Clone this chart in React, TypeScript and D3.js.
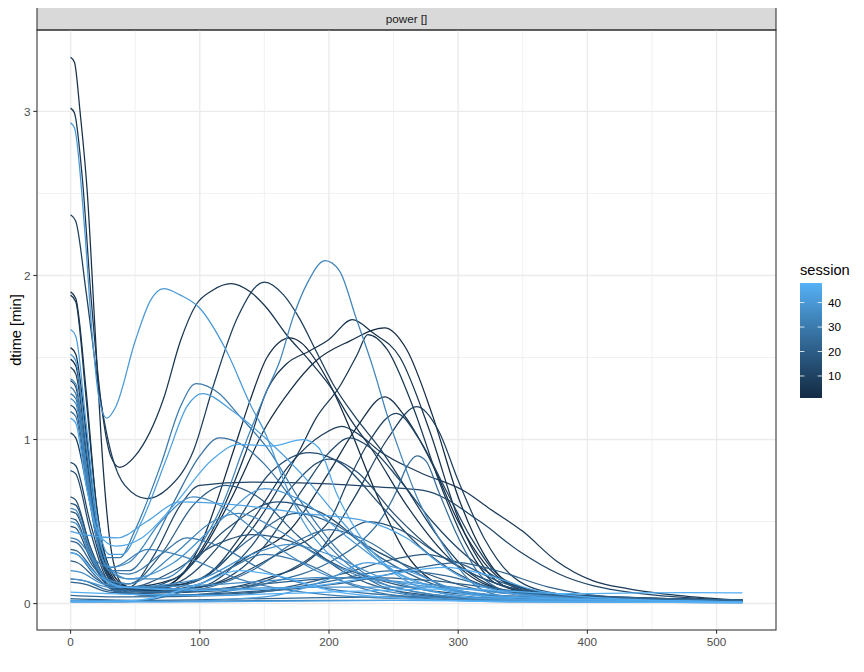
import React from "react";
import * as d3 from "d3";

// ---- data ----
const sessions: number[] = Array.from({ length: 48 }, (_, i) => i + 1);

// knots [power, dtime] for each session, in session order
const sessionKnots: [number, number][][] = [
  // s1
  [[0,1.56],[4,1.52],[12,1.05],[20,0.5],[30,0.2],[42,0.1],[70,0.1],[100,0.35],[126,0.93],[139,1.24],[152,1.5],[170,1.62],[180,1.58],[190,1.48],[203,1.3],[216,1.07],[235,0.7],[260,0.3],[290,0.1],[330,0.04],[420,0.02],[520,0.01]],
  // s2
  [[0,1.49],[4,1.45],[12,1.0],[20,0.48],[30,0.18],[42,0.09],[70,0.1],[100,0.3],[125,0.65],[152,1.09],[170,1.3],[190,1.48],[216,1.6],[243,1.68],[260,1.55],[280,1.15],[300,0.65],[320,0.3],[340,0.12],[380,0.05],[450,0.03],[520,0.02]],
  // s3
  [[0,3.33],[3,3.3],[7.3,3.0],[12.8,2.52],[19,1.66],[25,0.85],[32,0.3],[40,0.12],[60,0.07],[100,0.12],[140,0.3],[170,0.45],[200,0.8],[222,1.08],[243,1.26],[258,1.15],[280,0.85],[300,0.5],[320,0.25],[350,0.08],[400,0.03],[520,0.02]],
  // s4
  [[0,1.9],[4,1.86],[12,1.3],[20,0.6],[30,0.22],[45,0.1],[80,0.15],[110,0.45],[136,0.93],[152,1.3],[167,1.46],[185,1.54],[200,1.61],[218,1.73],[234,1.65],[255,1.5],[278,1.05],[301,0.5],[320,0.22],[345,0.08],[400,0.04],[520,0.02]],
  // s5
  [[0,3.02],[3,2.99],[9,2.6],[16,1.85],[24,1.2],[31,0.9],[38,0.83],[50,0.9],[72,1.25],[85,1.6],[97,1.82],[110,1.91],[124,1.95],[139,1.9],[152,1.8],[167,1.64],[185,1.48],[203,1.3],[216,1.13],[234,0.93],[260,0.6],[290,0.3],[320,0.12],[360,0.05],[440,0.03],[520,0.02]],
  // s6
  [[0,1.88],[4,1.84],[12,1.25],[20,0.6],[30,0.22],[45,0.1],[90,0.12],[140,0.45],[177,0.93],[190,1.13],[208,1.32],[222,1.52],[230,1.64],[245,1.55],[265,1.2],[285,0.75],[305,0.38],[330,0.12],[380,0.04],[520,0.02]],
  // s7
  [[0,1.04],[4,1.01],[14,0.65],[24,0.3],[35,0.12],[50,0.08],[100,0.15],[140,0.5],[170,0.85],[195,1.03],[210,1.08],[225,1.02],[239,0.93],[270,0.8],[306,0.68],[324,0.58],[350,0.44],[376,0.26],[404,0.14],[432,0.09],[470,0.05],[520,0.02]],
  // s8
  [[0,2.37],[4,2.33],[12,1.9],[22,1.3],[32,0.9],[42,0.72],[59,0.64],[75,0.7],[95,0.93],[111,1.34],[129,1.74],[150,1.96],[165,1.88],[177,1.74],[190,1.54],[203,1.34],[221,1.13],[239,0.95],[260,0.7],[285,0.4],[310,0.18],[350,0.06],[420,0.03],[520,0.02]],
  // s9
  [[0,1.44],[4,1.4],[12,0.95],[20,0.45],[30,0.17],[45,0.08],[100,0.08],[150,0.15],[190,0.3],[220,0.65],[245,1.0],[268,1.2],[285,1.05],[300,0.75],[320,0.4],[340,0.18],[370,0.07],[420,0.03],[520,0.02]],
  // s10
  [[0,1.36],[4,1.32],[12,0.9],[20,0.42],[30,0.16],[45,0.08],[100,0.1],[160,0.3],[200,0.5],[215,0.75],[232,1.0],[252,1.16],[270,1.0],[290,0.7],[310,0.4],[335,0.15],[380,0.05],[520,0.02]],
  // s11
  [[0,0.86],[4,0.84],[15,0.5],[30,0.15],[45,0.1],[65,0.3],[85,0.6],[100,0.72],[140,0.74],[200,0.73],[240,0.71],[273,0.69],[317,0.5],[347,0.32],[378,0.18],[432,0.07],[520,0.02]],
  // s12
  [[0,1.21],[4,1.18],[12,0.8],[20,0.4],[30,0.15],[45,0.07],[100,0.1],[150,0.35],[180,0.7],[200,0.92],[216,1.01],[232,0.95],[255,0.75],[280,0.5],[305,0.3],[340,0.12],[400,0.04],[520,0.02]],
  // s13
  [[0,0.81],[4,0.79],[15,0.45],[28,0.15],[40,0.08],[80,0.12],[120,0.4],[155,0.8],[185,0.92],[210,0.85],[240,0.6],[270,0.35],[300,0.18],[340,0.07],[420,0.03],[520,0.02]],
  // s14
  [[0,0.65],[4,0.63],[15,0.35],[28,0.12],[40,0.06],[100,0.1],[140,0.35],[170,0.7],[200,0.88],[222,0.8],[250,0.55],[285,0.3],[320,0.15],[370,0.06],[520,0.02]],
  // s15
  [[0,0.47],[4,0.46],[15,0.28],[28,0.12],[45,0.08],[80,0.15],[120,0.45],[160,0.62],[195,0.55],[230,0.35],[270,0.2],[320,0.08],[400,0.03],[520,0.01]],
  // s16
  [[0,0.56],[4,0.55],[15,0.32],[28,0.12],[45,0.06],[120,0.08],[180,0.25],[210,0.42],[230,0.5],[255,0.45],[285,0.3],[320,0.15],[370,0.06],[520,0.02]],
  // s17
  [[0,0.61],[4,0.6],[15,0.35],[28,0.15],[45,0.1],[80,0.2],[110,0.35],[140,0.42],[170,0.38],[210,0.22],[250,0.12],[320,0.05],[520,0.01]],
  // s18
  [[0,0.33],[5,0.32],[18,0.2],[35,0.08],[60,0.05],[150,0.08],[210,0.18],[250,0.27],[275,0.3],[300,0.25],[330,0.14],[380,0.05],[520,0.02]],
  // s19
  [[0,0.52],[4,0.51],[15,0.3],[28,0.14],[45,0.12],[70,0.3],[95,0.6],[120,0.72],[145,0.65],[175,0.42],[210,0.2],[250,0.08],[320,0.03],[520,0.01]],
  // s20
  [[0,0.26],[5,0.25],[20,0.15],[40,0.08],[80,0.07],[150,0.12],[220,0.16],[280,0.14],[340,0.08],[400,0.04],[520,0.02]],
  // s21
  [[0,0.13],[10,0.12],[30,0.07],[80,0.05],[160,0.08],[230,0.15],[270,0.22],[300,0.25],[330,0.2],[370,0.1],[420,0.04],[520,0.02]],
  // s22
  [[0,0.38],[5,0.37],[18,0.22],[35,0.1],[60,0.07],[100,0.15],[140,0.4],[175,0.55],[205,0.48],[240,0.28],[280,0.12],[330,0.05],[520,0.02]],
  // s23
  [[0,0.03],[50,0.02],[150,0.03],[250,0.04],[350,0.03],[450,0.02],[520,0.01]],
  // s24
  [[0,0.05],[40,0.04],[120,0.05],[190,0.12],[250,0.2],[290,0.17],[330,0.09],[390,0.04],[520,0.02]],
  // s25
  [[0,0.15],[10,0.14],[30,0.08],[80,0.05],[150,0.12],[200,0.25],[225,0.38],[239,0.5],[252,0.68],[260,0.83],[268,0.9],[275,0.87],[285,0.68],[299,0.42],[320,0.15],[350,0.05],[420,0.02],[520,0.01]],
  // s26
  [[0,0.31],[5,0.3],[18,0.18],[35,0.08],[80,0.07],[140,0.2],[175,0.38],[200,0.45],[230,0.38],[265,0.2],[300,0.08],[360,0.03],[520,0.01]],
  // s27
  [[0,1.17],[4,1.14],[12,0.75],[20,0.4],[30,0.2],[45,0.2],[60,0.32],[80,0.62],[100,0.9],[115,1.01],[130,0.98],[150,0.85],[175,0.6],[200,0.35],[230,0.15],[270,0.05],[350,0.02],[520,0.01]],
  // s28
  [[0,1.32],[4,1.28],[12,0.85],[20,0.42],[30,0.2],[45,0.18],[70,0.3],[90,0.4],[115,0.35],[150,0.2],[200,0.09],[280,0.04],[520,0.01]],
  // s29
  [[0,0.01],[40,0.01],[90,0.08],[120,0.2],[150,0.3],[180,0.25],[215,0.12],[260,0.04],[340,0.01],[520,0.005]],
  // s30
  [[0,1.28],[4,1.25],[12,0.85],[20,0.45],[28,0.28],[38,0.28],[50,0.45],[70,0.85],[85,1.2],[97,1.34],[115,1.28],[130,1.15],[152,0.95],[180,0.6],[210,0.3],[250,0.1],[320,0.03],[520,0.01]],
  // s31
  [[0,0.02],[100,0.015],[200,0.02],[300,0.02],[400,0.01],[520,0.01]],
  // s32
  [[0,0.4],[5,0.39],[18,0.27],[32,0.22],[60,0.33],[90,0.28],[130,0.15],[180,0.07],[260,0.03],[520,0.01]],
  // s33
  [[0,1.37],[4,1.34],[12,0.85],[20,0.4],[30,0.2],[45,0.15],[70,0.15],[100,0.35],[120,0.65],[133,0.93],[152,1.3],[162,1.48],[172,1.74],[183,1.95],[197,2.09],[208,2.03],[221,1.74],[234,1.44],[245,1.15],[255,0.92],[268,0.65],[285,0.4],[300,0.22],[315,0.1],[340,0.04],[520,0.01]],
  // s34
  [[0,0.58],[4,0.57],[15,0.33],[28,0.15],[45,0.12],[80,0.3],[110,0.5],[130,0.55],[160,0.45],[200,0.25],[250,0.1],[320,0.03],[520,0.01]],
  // s35
  [[0,1.25],[4,1.22],[12,0.8],[20,0.4],[30,0.22],[45,0.25],[70,0.5],[95,0.65],[120,0.58],[150,0.4],[190,0.2],[240,0.08],[320,0.02],[520,0.01]],
  // s36
  [[0,0.2],[8,0.19],[25,0.12],[50,0.1],[120,0.12],[200,0.16],[260,0.13],[320,0.08],[400,0.03],[520,0.01]],
  // s37
  [[0,0.5],[4,0.49],[15,0.3],[28,0.14],[45,0.1],[100,0.15],[140,0.3],[170,0.36],[200,0.3],[240,0.16],[290,0.06],[360,0.02],[520,0.01]],
  // s38
  [[0,0.15],[10,0.14],[30,0.1],[100,0.09],[200,0.1],[280,0.1],[340,0.06],[420,0.02],[520,0.01]],
  // s39
  [[0,1.52],[4,1.48],[12,0.98],[20,0.5],[30,0.22],[45,0.15],[80,0.25],[115,0.5],[150,0.7],[180,0.62],[215,0.4],[250,0.2],[300,0.07],[360,0.02],[520,0.01]],
  // s40
  [[0,2.93],[3,2.9],[11,2.27],[16.5,1.66],[22,1.25],[28,1.13],[35,1.2],[50,1.6],[62,1.85],[72,1.92],[85,1.88],[100,1.8],[120,1.55],[140,1.2],[150,1.05],[165,0.75],[180,0.5],[200,0.3],[230,0.17],[280,0.1],[350,0.04],[520,0.01]],
  // s41
  [[0,0.01],[60,0.01],[150,0.04],[200,0.15],[230,0.25],[260,0.2],[300,0.08],[360,0.02],[520,0.005]],
  // s42
  [[0,1.67],[4,1.63],[12,1.1],[20,0.55],[30,0.3],[40,0.3],[55,0.5],[75,0.9],[90,1.2],[102,1.28],[126,1.17],[152,1.0],[180,0.78],[210,0.5],[240,0.25],[270,0.1],[320,0.03],[520,0.01]],
  // s43
  [[0,0.44],[10,0.42],[36,0.4],[59,0.5],[85,0.62],[130,0.6],[180,0.55],[230,0.5],[260,0.4],[290,0.22],[320,0.1],[380,0.03],[520,0.01]],
  // s44
  [[0,0.02],[100,0.01],[250,0.02],[400,0.01],[520,0.005]],
  // s45
  [[0,1.13],[4,1.1],[12,0.72],[22,0.42],[35,0.35],[55,0.4],[80,0.6],[110,0.88],[130,0.97],[155,0.96],[180,1.0],[192,0.95],[206,0.67],[225,0.4],[250,0.2],[280,0.1],[330,0.04],[520,0.01]],
  // s46
  [[0,0.31],[5,0.3],[20,0.18],[40,0.1],[100,0.08],[180,0.1],[240,0.17],[290,0.22],[320,0.18],[360,0.08],[420,0.03],[520,0.01]],
  // s47
  [[0,0.07],[30,0.06],[100,0.05],[200,0.07],[300,0.09],[380,0.06],[440,0.065],[480,0.066],[520,0.065]],
  // s48
  [[0,0.01],[50,0.02],[100,0.12],[130,0.2],[160,0.17],[200,0.08],[260,0.03],[350,0.01],[520,0.005]],
];

const xTicks = [0, 100, 200, 300, 400, 500];
const xMinor = [50, 150, 250, 350, 450];
const yTicks = [0, 1, 2, 3];
const yMinor = [0.5, 1.5, 2.5];
const legendTicks = [10, 20, 30, 40];

const stripLabel = "power []";
const yTitle = "dtime [min]";
const legendTitle = "session";

const FONT = "'Liberation Sans', Arial, Helvetica, sans-serif";

export default function App() {
  const W = 864, H = 672;
  const pL = 37, pR = 776, pT = 30, pB = 630;
  const stripTop = 7;

  const allX = sessionKnots.flat().map((d) => d[0]);
  const allY = sessionKnots.flat().map((d) => d[1]);
  const [x0, x1] = d3.extent(allX) as [number, number];
  const [y0, y1] = d3.extent(allY) as [number, number];
  const xr = x1 - x0, yr = y1 - y0;

  const x = d3.scaleLinear().domain([x0 - 0.05 * xr, x1 + 0.05 * xr]).range([pL, pR]);
  const y = d3.scaleLinear().domain([y0 - 0.05 * yr, y1 + 0.05 * yr]).range([pB, pT]);

  const sExt = d3.extent(sessions) as [number, number];
  const color = d3.scaleLinear<string>().domain(sExt).range(["#132B43", "#56B1F7"]).interpolate(d3.interpolateLab);

  const line = d3
    .line<[number, number]>()
    .x((d) => x(d[0]))
    .y((d) => y(d[1]))
    .curve(d3.curveMonotoneX);

  // legend
  const lgX = 800, lgW = 22, lgTop = 283, lgBot = 398;
  const ls = d3.scaleLinear().domain(sExt).range([lgBot, lgTop]);
  const stops = d3.range(0, 21).map((i) => {
    const v = sExt[0] + ((sExt[1] - sExt[0]) * i) / 20;
    return { off: (i / 20) * 100, c: color(v) };
  });

  return (
    <svg width={W} height={H} style={{ display: "block", margin: "-8px" }} fontFamily={FONT}>
      <defs>
        <linearGradient id="cb" x1="0" y1="1" x2="0" y2="0">
          {stops.map((s, i) => (
            <stop key={i} offset={`${s.off}%`} stopColor={s.c} />
          ))}
        </linearGradient>
        <clipPath id="pc">
          <rect x={pL} y={pT} width={pR - pL} height={pB - pT} />
        </clipPath>
      </defs>
      <rect x={0} y={0} width={W} height={H} fill="#fff" />
      {/* strip */}
      <rect x={pL} y={stripTop} width={pR - pL} height={pT - stripTop} fill="#D9D9D9" stroke="#333" strokeWidth={1.07} />
      <text x={(pL + pR) / 2} y={(stripTop + pT) / 2} dy="0.35em" textAnchor="middle" fontSize={11.7} fill="#1A1A1A">
        {stripLabel}
      </text>
      {/* grid */}
      {xMinor.map((v) => (
        <line key={"xm" + v} x1={x(v)} x2={x(v)} y1={pT} y2={pB} stroke="#EBEBEB" strokeWidth={0.7} />
      ))}
      {yMinor.map((v) => (
        <line key={"ym" + v} y1={y(v)} y2={y(v)} x1={pL} x2={pR} stroke="#EBEBEB" strokeWidth={0.7} />
      ))}
      {xTicks.map((v) => (
        <line key={"xg" + v} x1={x(v)} x2={x(v)} y1={pT} y2={pB} stroke="#EBEBEB" strokeWidth={1.4} />
      ))}
      {yTicks.map((v) => (
        <line key={"yg" + v} y1={y(v)} y2={y(v)} x1={pL} x2={pR} stroke="#EBEBEB" strokeWidth={1.4} />
      ))}
      {/* lines */}
      <g clipPath="url(#pc)">
        {sessionKnots.map((pts, i) => (
          <path key={i} d={line(pts) || ""} fill="none" stroke={color(sessions[i])} strokeWidth={1.25} />
        ))}
      </g>
      {/* panel border */}
      <rect x={pL} y={pT} width={pR - pL} height={pB - pT} fill="none" stroke="#333" strokeWidth={1.07} />
      {/* axes ticks */}
      {xTicks.map((v) => (
        <g key={"xt" + v}>
          <line x1={x(v)} x2={x(v)} y1={pB} y2={pB + 3.7} stroke="#333" strokeWidth={1.07} />
          <text x={x(v)} y={pB + 6.6} dy="0.8em" textAnchor="middle" fontSize={11.7} fill="#4D4D4D">
            {v}
          </text>
        </g>
      ))}
      {yTicks.map((v) => (
        <g key={"yt" + v}>
          <line x1={pL - 3.7} x2={pL} y1={y(v)} y2={y(v)} stroke="#333" strokeWidth={1.07} />
          <text x={pL - 6.6} y={y(v)} dy="0.35em" textAnchor="end" fontSize={11.7} fill="#4D4D4D">
            {v}
          </text>
        </g>
      ))}
      {/* y title */}
      <text transform={`translate(${16},${(pT + pB) / 2}) rotate(-90)`} dy="0.35em" textAnchor="middle" fontSize={14.67} fill="#000">
        {yTitle}
      </text>
      {/* legend */}
      <text x={lgX} y={lgTop - 8} fontSize={14.67} fill="#000">
        {legendTitle}
      </text>
      <rect x={lgX} y={lgTop} width={lgW} height={lgBot - lgTop} fill="url(#cb)" />
      {legendTicks.map((v) => (
        <g key={"lt" + v}>
          <line x1={lgX} x2={lgX + lgW * 0.2} y1={ls(v)} y2={ls(v)} stroke="#fff" strokeWidth={0.8} />
          <line x1={lgX + lgW * 0.8} x2={lgX + lgW} y1={ls(v)} y2={ls(v)} stroke="#fff" strokeWidth={0.8} />
          <text x={lgX + lgW + 6} y={ls(v)} dy="0.35em" fontSize={11.7} fill="#000">
            {v}
          </text>
        </g>
      ))}
    </svg>
  );
}
